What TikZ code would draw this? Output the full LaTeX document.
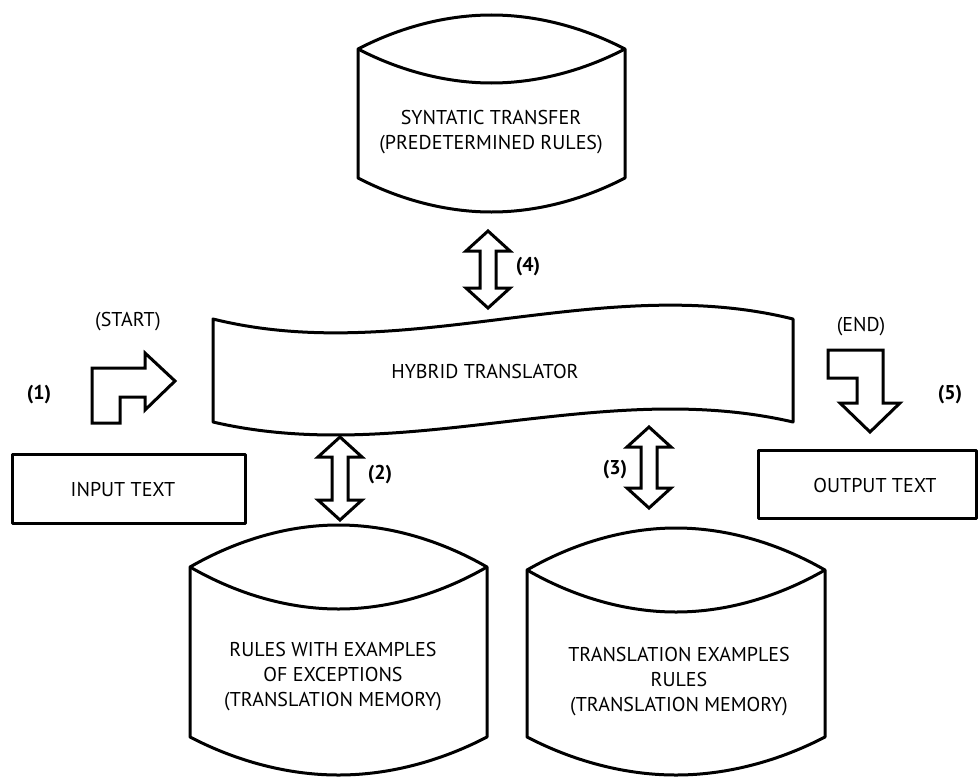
\documentclass[tikz,border=0pt]{standalone}
\usepackage{fontspec}
\setmainfont{PT Sans}
\begin{document}
\begin{tikzpicture}[x=1pt,y=-1pt,
  shp/.style={line width=3pt,draw=black,line join=round},
  blk/.style={line width=3pt,draw=black,fill=white,line join=miter},
  txt/.style={font=\fontsize{20}{25}\selectfont,align=center,inner sep=0pt},
  lbl/.style={font=\fontsize{20}{24}\selectfont\bfseries,inner sep=0pt}]
\newcommand\cylshape[6]{%
  \draw[shp] (#1,#3) parabola bend ({(#1+#2)/2},#3-#4) (#2,#3) -- (#2,#5)
    parabola bend ({(#1+#2)/2},#5+#6) (#1,#5) -- cycle;
  \draw[shp] (#1,#3) parabola bend ({(#1+#2)/2},#3+#4) (#2,#3);}
\newcommand\vdblarrow[3]{%
  \draw[blk] (#1,#2) -- (#1+22,#2+20) -- (#1+8,#2+20) -- (#1+8,#3-20)
    -- (#1+22,#3-20) -- (#1,#3) -- (#1-22,#3-20) -- (#1-8,#3-20)
    -- (#1-8,#2+20) -- (#1-22,#2+20) -- cycle;}
\fill[white] (0,0) rectangle (979,776);
\useasboundingbox (0,0) rectangle (979,776);

% top cylinder
\cylshape{358}{625}{49}{34}{178}{34}
\node[txt] (syn) at (491,132) {SYNTATIC TRANSFER\\(PREDETERMINED RULES)};

% hybrid translator
\draw[shp] (213,319) .. controls (406,367) and (600,271) .. (793,319)
  -- (793,422) .. controls (600,377) and (406,467) .. (213,422) -- cycle;
\node[txt] (hyb) at (485,371) {HYBRID TRANSLATOR};

% bottom cylinders
\cylshape{190}{487}{567}{42}{737}{38}
\node[txt] (rwe) at (333,677) {RULES WITH EXAMPLES\\OF EXCEPTIONS\\(TRANSLATION MEMORY)};
\cylshape{527}{825}{570}{42}{737}{38}
\node[txt] (ter) at (679,682) {TRANSLATION EXAMPLES\\RULES\\(TRANSLATION MEMORY)};

% input / output boxes
\draw[shp] (12,454) rectangle (245,523);
\node[txt] (in) at (123,489) {INPUT TEXT};
\draw[shp] (758,450) rectangle (976,518);
\node[txt] (out) at (875,485) {OUTPUT TEXT};

% start arrow
\draw[blk] (92,368) -- (145,368) -- (145,353) -- (175,381) -- (145,410)
  -- (145,397) -- (120,397) -- (120,423) -- (92,423) -- cycle;
\node[txt] (start) at (128,322) {(START)};
\node[lbl] (l1) at (39,395) {(1)};

% end arrow
\draw[blk] (828,350) -- (883,350) -- (883,403) -- (900,403) -- (870,432)
  -- (840,403) -- (857,403) -- (857,378) -- (828,378) -- cycle;
\node[txt] (end) at (861,327) {(END)};
\node[lbl] (l5) at (950,395) {(5)};

% double arrows
\vdblarrow{488}{231}{308}
\node[lbl] (l4) at (528,267) {(4)};
\vdblarrow{340}{437}{520}
\node[lbl] (l2) at (380,475) {(2)};
\vdblarrow{649}{427}{508}
\node[lbl] (l3) at (615,470) {(3)};
\end{tikzpicture}
\end{document}
